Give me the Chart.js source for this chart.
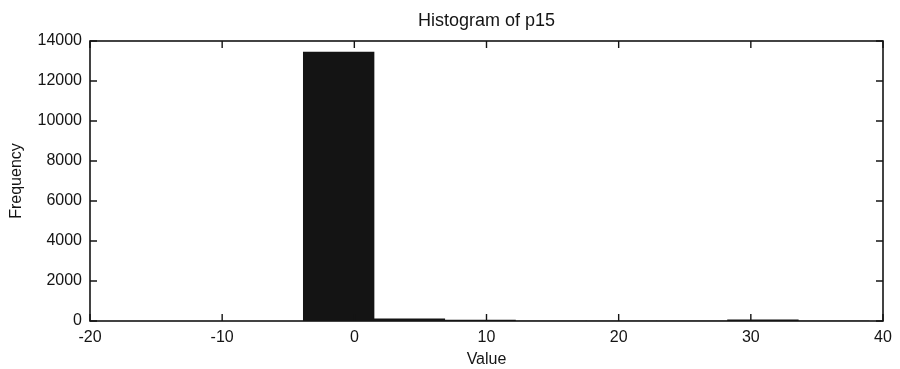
<!DOCTYPE html>
<html>
<head>
<meta charset="utf-8">
<title>Histogram of p15</title>
<script src="https://cdn.jsdelivr.net/npm/chart.js@4.4.1/dist/chart.umd.min.js"></script>
<style>
    html, body { margin: 0; padding: 0; background: #ffffff; }
    #wrap { width: 900px; height: 369px; }
</style>
</head>
<body>
<div id="wrap"><canvas id="histChart" width="900" height="369"></canvas></div>
<script>
// Histogram bins (centres) and their counts
const binCenters = [-1.185, 4.165, 9.515, 14.865, 20.215, 25.565, 30.915, 36.265];
const binCounts = [13450, 110, 45, 0, 0, 0, 60, 0];

// Axis ticks
const xTicks = [-20, -10, 0, 10, 20, 30, 40];
const yTicks = [0, 2000, 4000, 6000, 8000, 10000, 12000, 14000];

const inkColor = '#141414';
const fontFamily = '"Liberation Sans", Arial, Helvetica, sans-serif';

/**
 * Box around the plot area with inward-pointing tick marks on all four sides
 */
const boxAxes = {
    id: 'boxAxes',
    afterDraw(chart) {
        const ctx = chart.ctx;
        const area = chart.chartArea;
        const xs = chart.scales.x;
        const ys = chart.scales.y;
        const len = 7;

        ctx.save();
        ctx.strokeStyle = inkColor;
        ctx.lineWidth = 1.6;
        ctx.strokeRect(area.left, area.top, area.right - area.left, area.bottom - area.top);

        ctx.lineWidth = 1.4;
        ctx.beginPath();
        xTicks.forEach(v => {
            const px = xs.getPixelForValue(v);
            ctx.moveTo(px, area.bottom);
            ctx.lineTo(px, area.bottom - len);
            ctx.moveTo(px, area.top);
            ctx.lineTo(px, area.top + len);
        });
        yTicks.forEach(v => {
            const py = ys.getPixelForValue(v);
            ctx.moveTo(area.left, py);
            ctx.lineTo(area.left + len, py);
            ctx.moveTo(area.right, py);
            ctx.lineTo(area.right - len, py);
        });
        ctx.stroke();
        ctx.restore();
    }
};

new Chart(document.getElementById('histChart'), {
    type: 'bar',
    data: {
        datasets: [{
            label: 'p15',
            data: binCenters.map((c, i) => ({ x: c, y: binCounts[i] })),
            backgroundColor: inkColor,
            borderWidth: 0,
            barPercentage: 1.0,
            categoryPercentage: 1.0
        }]
    },
    options: {
        responsive: false,
        animation: false,
        layout: {
            padding: { left: 0, right: 17, top: 0, bottom: 0 }
        },
        plugins: {
            legend: { display: false },
            tooltip: { enabled: false },
            title: {
                display: true,
                fullSize: false,
                text: 'Histogram of p15',
                color: inkColor,
                font: { family: fontFamily, size: 18, weight: 'normal', lineHeight: 1.2 },
                padding: { top: 10, bottom: 9.4 }
            }
        },
        scales: {
            x: {
                type: 'linear',
                min: -20,
                max: 40,
                offset: false,
                grid: { display: false, drawTicks: false, tickLength: 0, offset: false },
                border: { display: false },
                afterBuildTicks: scale => {
                    scale.ticks = xTicks.map(v => ({ value: v }));
                },
                ticks: {
                    color: inkColor,
                    padding: 7,
                    maxRotation: 0,
                    autoSkip: false,
                    font: { family: fontFamily, size: 16 },
                    callback: v => String(v)
                },
                title: {
                    display: true,
                    text: 'Value',
                    color: inkColor,
                    padding: { top: 0, bottom: 0 },
                    font: { family: fontFamily, size: 16, lineHeight: 1.2 }
                },
                afterFit: scale => { scale.height = 48; }
            },
            y: {
                min: 0,
                max: 14000,
                grid: { display: false, drawTicks: false, tickLength: 0 },
                border: { display: false },
                afterBuildTicks: scale => {
                    scale.ticks = yTicks.map(v => ({ value: v }));
                },
                ticks: {
                    color: inkColor,
                    padding: 8,
                    font: { family: fontFamily, size: 16 },
                    callback: v => String(v)
                },
                title: {
                    display: true,
                    text: 'Frequency',
                    color: inkColor,
                    padding: { top: 7, bottom: 0 },
                    font: { family: fontFamily, size: 16, lineHeight: 1.2 }
                },
                afterFit: scale => { scale.width = 90; }
            }
        }
    },
    plugins: [boxAxes]
});
</script>
</body>
</html>
